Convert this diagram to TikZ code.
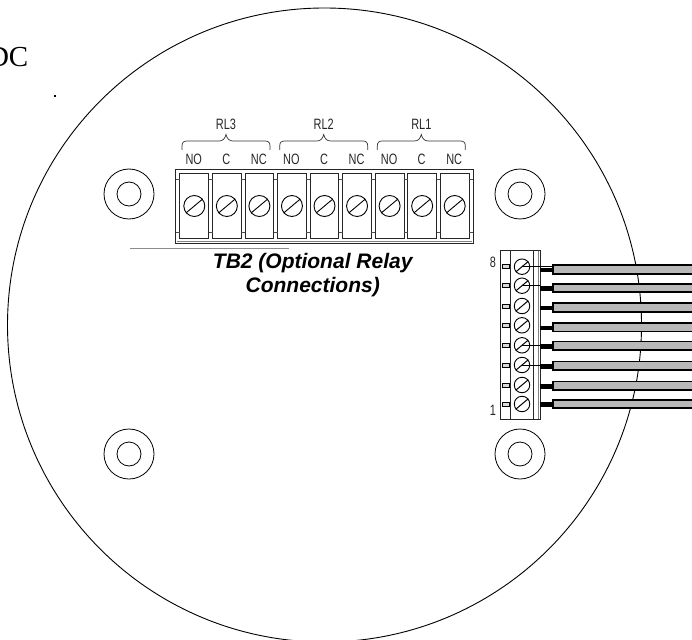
\documentclass[tikz,border=0pt]{standalone}
\usepackage{fontspec}
\setmainfont{Liberation Serif}
\setsansfont{Liberation Sans}
\newfontfamily\cadfont[FakeStretch=0.73]{Liberation Sans}
\tikzset{
  board/.style={draw, line width=.9pt},
  standoff/.style={circle, draw, line width=.8pt, inner sep=0pt},
  screw/.style={circle, draw, line width=.9pt, inner sep=0pt, minimum size=#1},
  cell/.style={draw, line width=1pt, black!85},
  cadtext/.style={font=\cadfont\fontsize{15}{16}\selectfont, inner sep=0pt, black!85},
  relaybrace/.style={draw, line width=.7pt, black!80},
  wirebar/.style={draw, line width=1.7pt, fill=black!28},
  stub/.style={line width=4.5pt},
}
\begin{document}
\begin{tikzpicture}[x=1pt, y=-1pt]
\useasboundingbox (0,0) rectangle (692,639);
% housing
\draw[board] (324.5,325) circle (317pt);
\node (dc) [anchor=east, inner sep=0pt, font=\fontsize{29}{30}\selectfont] at (28.5,57) {DC};
\fill (54,95) rectangle (56,97);
% standoffs
\foreach \name/\x/\y in {tl/129/194, tr/520/194, bl/129/454, br/520/454} {
  \node (out\name) [standoff, minimum size=50pt] at (\x,\y) {};
  \node (in\name) [standoff, minimum size=24pt] at (\x,\y) {};
}
% TB2
\draw[line width=1pt, black!85] (175.7,169) rectangle (473,243);
\draw[line width=.5pt, black!50] (176.5,241) -- (472,241);
\foreach \i in {0,...,8} {
  \pgfmathsetmacro{\px}{194.3+32.55*\i}
  \draw[cell, fill=white] (\px-14.4,173.7) rectangle (\px+14.4,238.7);
  \node (relay\i) [screw=21pt] at (\px,206) {};
  \draw[line width=.9pt] (relay\i.220) -- (relay\i.40);
}
\foreach \y in {179.5,232.5} {
  \draw[line width=.6pt, black!70] (175.7,\y) -- (179.9,\y);
  \foreach \i in {0,...,7} {
    \pgfmathsetmacro{\px}{194.3+32.55*\i}
    \draw[line width=.6pt, black!70] (\px+14.4,\y) -- (\px+18.2,\y);
  }
  \draw[line width=.6pt, black!70] (468.9,\y) -- (473,\y);
}
\draw[line width=.7pt, black!45] (130,248) -- (289,248);
\foreach \i/\t in {0/NO,1/C,2/NC,3/NO,4/C,5/NC,6/NO,7/C,8/NC} {
  \pgfmathsetmacro{\px}{194.3+32.55*\i}
  \node (pin\i) [cadtext] at (\px-.5,159.5) {\t};
}
\foreach \t/\x in {RL3/182,RL2/279.7,RL1/377.3} {
  \draw[relaybrace] (\x,150) -- (\x,146) .. controls (\x,142.5) and (\x+1.5,141) .. (\x+5,141)
    -- (\x+37,141) .. controls (\x+41,141) and (\x+43,138.5) .. (\x+44,134.5)
    .. controls (\x+45,138.5) and (\x+47,141) .. (\x+51,141)
    -- (\x+83,141) .. controls (\x+86.5,141) and (\x+88,142.5) .. (\x+88,146) -- (\x+88,150);
  \node (\t) [cadtext] at (\x+44,124.5) {\t};
}
\node (tb2) [align=center, inner sep=0pt, font=\sffamily\bfseries\itshape\fontsize{21}{24}\selectfont] at (312.7,275) {TB2 (Optional Relay\\Connections)};
% 8 way connector
\draw[line width=1pt, black!85, fill=white] (500.7,250.7) rectangle (540.7,419.3);
\draw[line width=1pt, black!85] (510.7,250.7) -- (510.7,419.3);
\draw[line width=1pt, black!85] (533.5,250.7) -- (533.5,419.3);
\draw[line width=.6pt, black!50] (538.3,250.7) -- (538.3,419.3);
\node (eight) [cadtext] at (493,262) {8};
\node (one) [cadtext] at (493,410) {1};
\foreach \i/\sy/\wy in {8/266.7/269.5, 7/285.7/288, 6/306/307.5, 5/325.3/327.3, 4/345.3/345.8, 3/365/365.8, 2/385/385.8, 1/404/404} {
  \draw[line width=.8pt, fill=black!15] (502.5,\sy-2) rectangle (509,\sy+2);
  \node (wire\i) [screw=15.5pt] at (522,\sy) {};
  \draw[line width=1pt] (wire\i.220) -- (wire\i.40);
  \draw[wirebar] (552.8,\wy-4.2) rectangle (695,\wy+4.2);
  \draw[stub] (539.5,\wy+.6) -- (552.5,\wy+.6);
}
% thin leads
\foreach \i/\ex in {8/552.5, 7/540, 4/540, 3/540} {
  \coordinate (lead\i) at (\ex,0);
  \draw[line width=.7pt] (wire\i.center) -- (wire\i.center -| lead\i);
}
\end{tikzpicture}
\end{document}
